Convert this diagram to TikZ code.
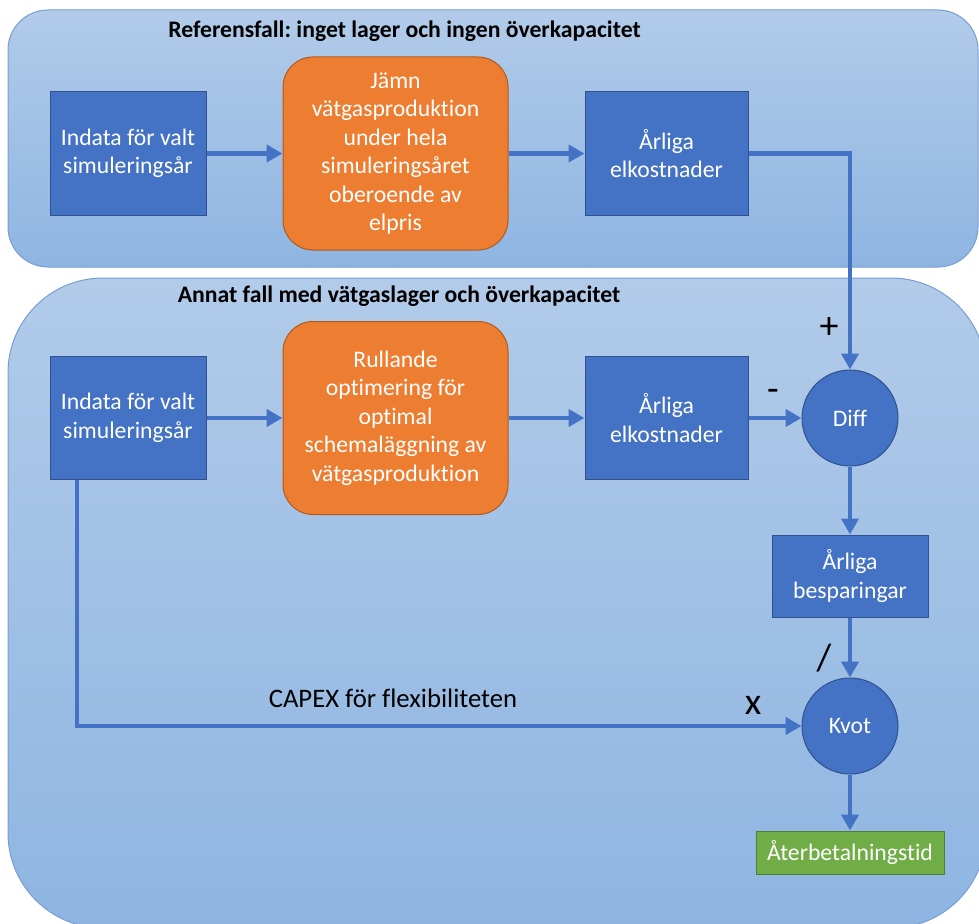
\documentclass[tikz,border=0pt]{standalone}
\usepackage{fontspec}
\setmainfont{Carlito}[Ligatures={NoCommon,NoContextual},RawFeature={-liga;-clig;-calt}]
\frenchspacing
\usetikzlibrary{positioning,calc}
\usetikzlibrary{arrows.meta}
\definecolor{PanelTop}{RGB}{178,203,233}
\definecolor{PanelBot}{RGB}{142,181,226}
\definecolor{PanelLine}{RGB}{118,158,212}
\definecolor{BoxBlue}{RGB}{68,114,196}
\definecolor{BoxBlueDark}{RGB}{47,82,143}
\definecolor{ProcOrange}{RGB}{237,125,49}
\definecolor{ProcOrangeDark}{RGB}{174,90,33}
\definecolor{ResGreen}{RGB}{112,173,71}
\definecolor{ResGreenDark}{RGB}{80,126,50}
\tikzset{panel/.style={top color=PanelTop,bottom color=PanelBot,draw=PanelLine,line width=1pt}, databox/.style={rectangle,draw=BoxBlueDark,fill=BoxBlue,line width=1pt,text=white,align=center,inner sep=2pt,font=\fontsize{23.7}{28.5}\selectfont}, procbox/.style={databox,draw=ProcOrangeDark,fill=ProcOrange,rounded corners=30pt,minimum width=225pt,minimum height=193pt}, opnode/.style={circle,draw=BoxBlueDark,fill=BoxBlue,line width=1pt,text=white,minimum size=96pt,inner sep=0pt,font=\fontsize{23.7}{28.5}\selectfont}, resbox/.style={databox,draw=ResGreenDark,fill=ResGreen}, flow/.style={draw=BoxBlue,line width=4.5pt,-{Triangle[length=16pt,width=17pt]}}, sign/.style={inner sep=0pt,font=\fontsize{38}{40}\selectfont}, heading/.style={inner sep=0pt,font=\bfseries\fontsize{23.7}{28}\selectfont}}

\begin{document}
\begin{tikzpicture}[x=1pt,y=-1pt]
\useasboundingbox (0,0) rectangle (979,923);
\clip (0,0) rectangle (979,923);
\shadedraw[panel,rounded corners=40pt] (8,10) rectangle (978,267);
\shadedraw[panel,rounded corners=95pt] (8,278) rectangle (986,928);
\coordinate (capex) at (77,725);
\node[heading] (reftitle) at (404.5,31) {Referensfall: inget lager och ingen överkapacitet};
\node[heading] (alttitle) at (399,296) {Annat fall med vätgaslager och överkapacitet};
\node[databox,minimum width=156pt,minimum height=123pt] (in1) at (128,153.5) {Indata för valt\\simuleringsår};
\node[procbox] (proc1) at (395.5,153.5) {Jämn\\vätgasproduktion\\under hela\\simuleringsåret\\oberoende av\\elpris};
\node[databox,minimum width=163pt,minimum height=123pt] (cost1) at (666.5,153.5) {Årliga\\elkostnader};
\node[databox,minimum width=156pt,minimum height=123pt] (in2) at (128,418) {Indata för valt\\simuleringsår};
\node[procbox] (proc2) at (395.5,418) {Rullande\\optimering för\\optimal\\schemaläggning av\\vätgasproduktion};
\node[databox,minimum width=163pt,minimum height=123pt] (cost2) at (666.5,418) {Årliga\\elkostnader};
\node[opnode] (diff) at (850,418) {Diff};
\node[databox,minimum width=156pt,minimum height=82pt] (save) at (850,576) {Årliga\\besparingar};
\node[opnode] (kvot) at (850,726) {Kvot};
\node[resbox,minimum width=188pt,minimum height=43pt] (payback) at (850,852.5) {Återbetalningstid};
\draw[flow] (in1.east) -- (proc1.west);
\draw[flow] (proc1.east) -- (cost1.west);
\draw[flow] (cost1.east) -| (diff.north);
\draw[flow] (in2.east) -- (proc2.west);
\draw[flow] (proc2.east) -- (cost2.west);
\draw[flow] (cost2.east) -- (diff.west);
\draw[flow] (diff.south) -- (save.north);
\draw[flow] (save.south) -- (kvot.north);
\draw[flow] (kvot.south) -- (payback.north);
\draw[flow] (in2.south -| capex) |- (kvot.west);
\node[inner sep=0pt,font=\fontsize{26.7}{30}\selectfont] (capexlab) at (393,698) {CAPEX för flexibiliteten};
\node[sign] (plus) at (829,328) {+};
\node[sign] (minus) at (773,395) {-};
\node[sign] (divide) at (824,658) {/};
\node[sign] (times) at (753,705) {x};
\end{tikzpicture}
\end{document}
